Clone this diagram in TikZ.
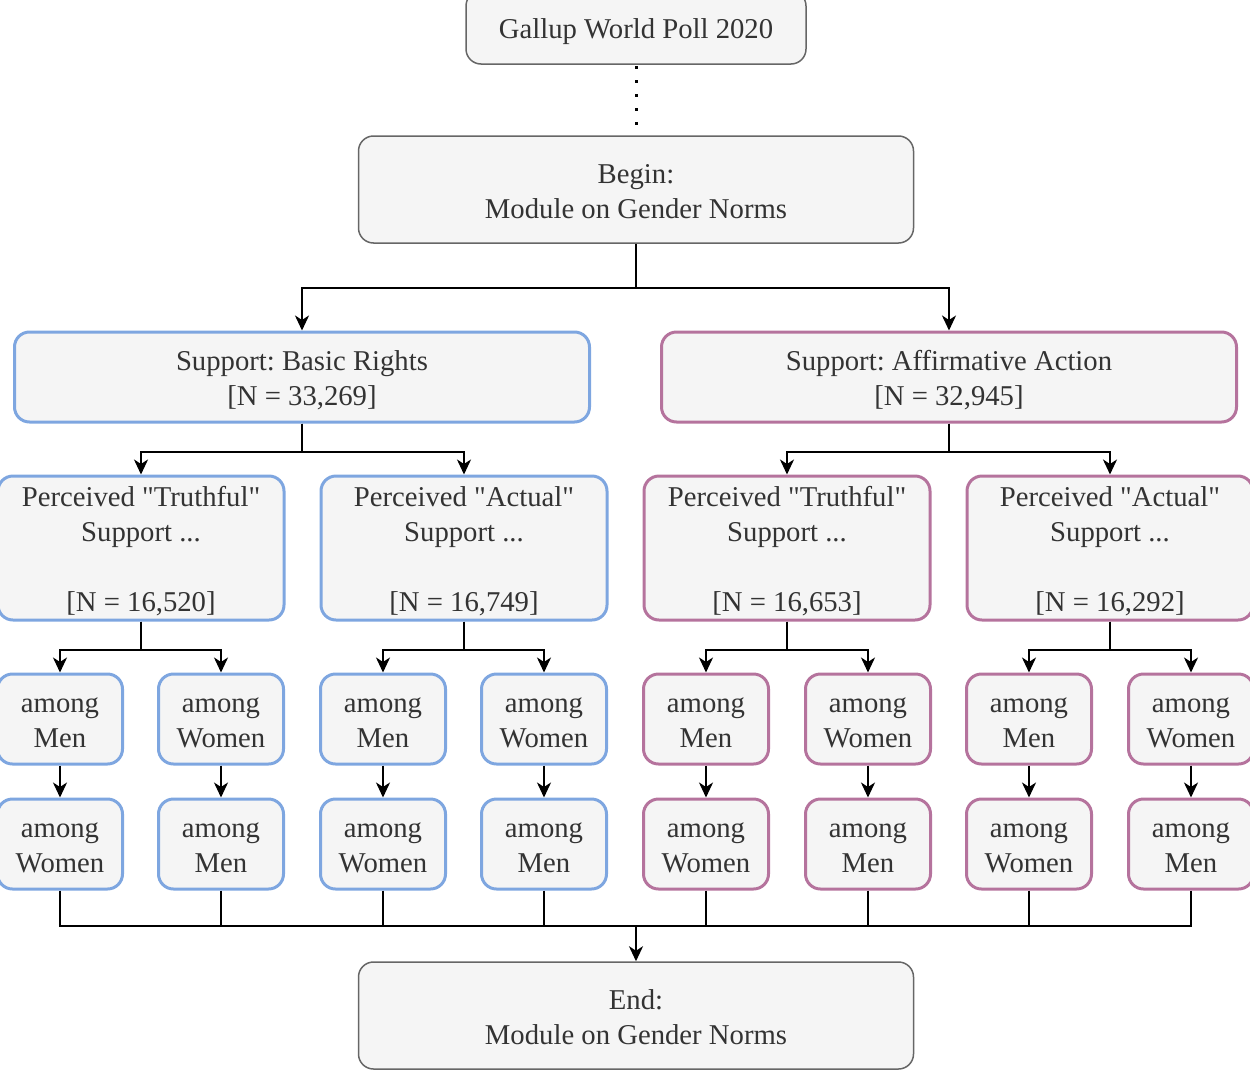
\documentclass[tikz,border=0pt]{standalone}
\usepackage{fontspec}
\newfontfamily\lsf{Liberation Serif}
\usetikzlibrary{arrows.meta}
\definecolor{boxfill}{HTML}{F5F5F5}
\definecolor{bluec}{HTML}{7EA6E0}
\definecolor{purpc}{HTML}{B5739D}
\definecolor{grayc}{HTML}{666666}
\definecolor{txt}{HTML}{333333}
\frenchspacing
\newcommand\firstline{\rule{0pt}{30pt}}
\tikzset{
  base/.style={rounded corners=15pt, fill=boxfill, text=txt, align=center, inner sep=0pt,
    font=\lsf\fontsize{28.7}{35}\selectfont\frenchspacing,
    execute at end node={\rule[-7.6pt]{0pt}{7.6pt}}},
  graybox/.style={base, draw=grayc, line width=1.5pt, minimum width=555pt, minimum height=107pt},
  topbox/.style={base, draw=grayc, line width=1.5pt, minimum width=340pt, minimum height=73pt},
  lvtwo/.style={base, line width=3pt, minimum width=575pt, minimum height=90pt},
  lvthree/.style={base, line width=3pt, minimum width=286pt, minimum height=144pt},
  lvfour/.style={base, line width=3pt, minimum width=125pt, minimum height=90pt},
  bl/.style={draw=bluec},
  pu/.style={draw=purpc},
  conn/.style={draw=black, line width=2pt},
  arr/.style={conn, -{Stealth[length=15pt,width=14pt,inset=4.5pt]}},
  dotline/.style={draw=black, line width=3pt, dash pattern=on 3pt off 11pt}
}
\begin{document}
\begin{tikzpicture}[x=1pt,y=-1pt]
\useasboundingbox (0,0) rectangle (1250,1071);
% top
\node[topbox] (gallup) at (636,27.5) {\firstline Gallup World Poll 2020};
\coordinate (dotend) at (636,125);
\draw[dotline] ([yshift=-1.5pt]gallup.south) -- (dotend);
\node[graybox] (begin) at (636,189.5) {\firstline Begin:\\Module on Gender Norms};
% level 2
\node[lvtwo,bl] (basic) at (302,377) {\firstline Support: Basic Rights\\{}[N = 33,269]};
\node[lvtwo,pu] (affirm) at (949,377) {\firstline Support: Affirmative Action\\{}[N = 32,945]};
\coordinate (j1) at (636,288);
\draw[arr] (begin.south) -- (j1) -| (basic.north);
\draw[arr] (j1) -| (affirm.north);
% level 3
\node[lvthree,bl] (bt) at (141,548) {\firstline Perceived "Truthful"\\Support ...\\[35pt]{}[N = 16,520]};
\node[lvthree,bl] (ba) at (464,548) {\firstline Perceived "Actual"\\Support ...\\[35pt]{}[N = 16,749]};
\node[lvthree,pu] (pt) at (787,548) {\firstline Perceived "Truthful"\\Support ...\\[35pt]{}[N = 16,653]};
\node[lvthree,pu] (pa) at (1110,548) {\firstline Perceived "Actual"\\Support ...\\[35pt]{}[N = 16,292]};
\draw[arr] (basic.south) -- ++(0,28) -| (bt.north);
\draw[arr] (basic.south) -- ++(0,28) -| (ba.north);
\draw[arr] (affirm.south) -- ++(0,28) -| (pt.north);
\draw[arr] (affirm.south) -- ++(0,28) -| (pa.north);
% level 4
\node[lvfour,bl] (a1) at (60,719) {\firstline among\\Men};
\node[lvfour,bl] (a2) at (221,719) {\firstline among\\Women};
\node[lvfour,bl] (a3) at (383,719) {\firstline among\\Men};
\node[lvfour,bl] (a4) at (544,719) {\firstline among\\Women};
\node[lvfour,pu] (a5) at (706,719) {\firstline among\\Men};
\node[lvfour,pu] (a6) at (868,719) {\firstline among\\Women};
\node[lvfour,pu] (a7) at (1029,719) {\firstline among\\Men};
\node[lvfour,pu] (a8) at (1191,719) {\firstline among\\Women};
\draw[arr] (bt.south) -- ++(0,28) -| (a1.north);
\draw[arr] (bt.south) -- ++(0,28) -| (a2.north);
\draw[arr] (ba.south) -- ++(0,28) -| (a3.north);
\draw[arr] (ba.south) -- ++(0,28) -| (a4.north);
\draw[arr] (pt.south) -- ++(0,28) -| (a5.north);
\draw[arr] (pt.south) -- ++(0,28) -| (a6.north);
\draw[arr] (pa.south) -- ++(0,28) -| (a7.north);
\draw[arr] (pa.south) -- ++(0,28) -| (a8.north);
% level 5
\node[lvfour,bl] (b1) at (60,844) {\firstline among\\Women};
\node[lvfour,bl] (b2) at (221,844) {\firstline among\\Men};
\node[lvfour,bl] (b3) at (383,844) {\firstline among\\Women};
\node[lvfour,bl] (b4) at (544,844) {\firstline among\\Men};
\node[lvfour,pu] (b5) at (706,844) {\firstline among\\Women};
\node[lvfour,pu] (b6) at (868,844) {\firstline among\\Men};
\node[lvfour,pu] (b7) at (1029,844) {\firstline among\\Women};
\node[lvfour,pu] (b8) at (1191,844) {\firstline among\\Men};
\foreach \i in {1,...,8} {\draw[arr] (a\i.south) -- (b\i.north);}
% end
\node[graybox] (end) at (636,1015.5) {\firstline End:\\Module on Gender Norms};
\coordinate (j2) at (636,926);
\foreach \i in {1,...,8} {\draw[conn] (b\i.south) |- (j2);}
\draw[arr] (j2) -- (end.north);
\end{tikzpicture}
\end{document}
